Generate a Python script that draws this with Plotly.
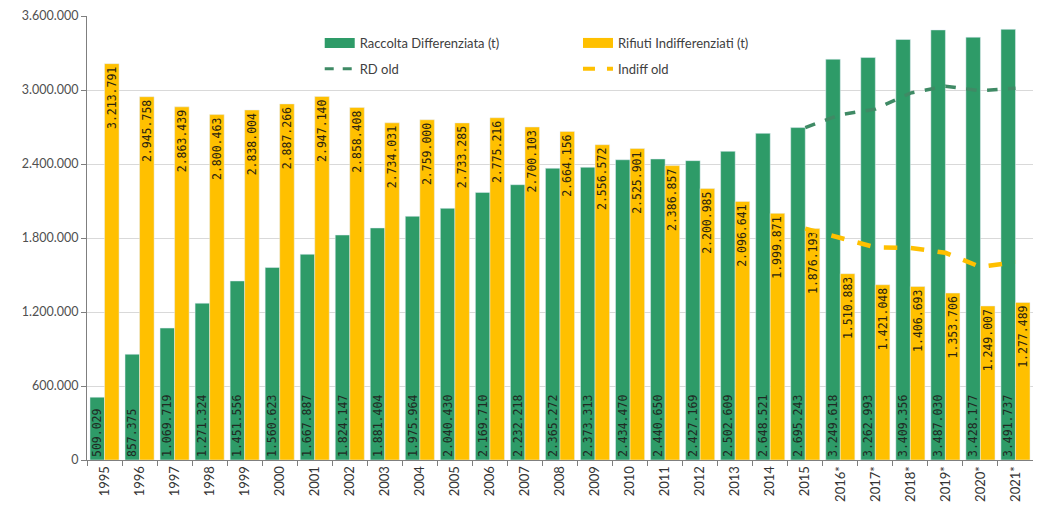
import plotly.graph_objects as go

years = ["1995", "1996", "1997", "1998", "1999", "2000", "2001", "2002", "2003", "2004",
         "2005", "2006", "2007", "2008", "2009", "2010", "2011", "2012", "2013", "2014",
         "2015", "2016*", "2017*", "2018*", "2019*", "2020*", "2021*"]

rd = [509029, 857375, 1069719, 1271324, 1451556, 1560623, 1667887, 1824147, 1881404, 1975964,
      2040430, 2169710, 2232218, 2365272, 2373313, 2434470, 2440650, 2427169, 2502609, 2648521,
      2695243, 3249618, 3262993, 3409356, 3487030, 3428177, 3491737]

indiff = [3213791, 2945758, 2863439, 2800463, 2838004, 2887266, 2947140, 2858408, 2734031, 2759000,
          2733285, 2775216, 2700103, 2664156, 2556572, 2525901, 2386857, 2200985, 2096641, 1999871,
          1876193, 1510883, 1421048, 1406693, 1353706, 1249007, 1277489]

old_years = ["2015", "2016*", "2017*", "2018*", "2019*", "2020*", "2021*"]
rd_old = [2695243, 2800000, 2845000, 2975000, 3030000, 2995000, 3015000]
indiff_old = [1876193, 1800000, 1725000, 1720000, 1680000, 1565000, 1605000]

y_ticks = [0, 600000, 1200000, 1800000, 2400000, 3000000, 3600000]

GREEN = "#2E9B68"
YELLOW = "#FFC000"
GREEN_LINE = "#3F8A65"


def fmt(v):
    return f"{v:,}".replace(",", ".")


fig = go.Figure()

fig.add_trace(go.Bar(
    x=years, y=rd, name="Raccolta Differenziata (t)", marker_color=GREEN,
    text=[fmt(v) for v in rd], textposition="inside", insidetextanchor="start",
    textangle=-90, constraintext="none",
    textfont=dict(family="DejaVu Sans Mono", size=11.5, color="#1f2a24"),
    showlegend=False, legendgroup="rd"))

fig.add_trace(go.Bar(
    x=years, y=indiff, name="Rifiuti Indifferenziati (t)", marker_color=YELLOW,
    text=[fmt(v) for v in indiff], textposition="inside", insidetextanchor="end",
    textangle=-90, constraintext="none",
    textfont=dict(family="DejaVu Sans Mono", size=11.5, color="#2b2410"),
    showlegend=False, legendgroup="ind"))

fig.add_trace(go.Scatter(
    x=old_years, y=rd_old, name="RD old", mode="lines",
    line=dict(color=GREEN_LINE, width=3.5, dash="dash"),
    showlegend=False, legendgroup="rdold"))

fig.add_trace(go.Scatter(
    x=old_years, y=indiff_old, name="Indiff old", mode="lines",
    line=dict(color=YELLOW, width=4.5, dash="dash"),
    showlegend=False, legendgroup="indold"))

# legend entries
fig.add_trace(go.Scatter(x=[None], y=[None], mode="lines", name="Raccolta Differenziata (t)",
                         line=dict(color=GREEN, width=10), legend="legend", legendgroup="rd"))
fig.add_trace(go.Scatter(x=[None], y=[None], mode="lines", name="RD old",
                         line=dict(color=GREEN_LINE, width=3, dash="dash"), legend="legend",
                         legendgroup="rdold"))
fig.add_trace(go.Scatter(x=[None], y=[None], mode="lines", name="Rifiuti Indifferenziati (t)",
                         line=dict(color=YELLOW, width=10), legend="legend2", legendgroup="ind"))
fig.add_trace(go.Scatter(x=[None], y=[None], mode="lines", name="Indiff old",
                         line=dict(color=YELLOW, width=4, dash="dash"), legend="legend2",
                         legendgroup="indold"))

legend_common = dict(orientation="v", bgcolor="rgba(0,0,0,0)", tracegroupgap=6,
                     font=dict(family="Lato", size=13, color="#404040"),
                     xanchor="left", yanchor="top", itemclick=False)

# the page body adds an 8px offset, margins compensate for it
fig.update_layout(
    width=1041, height=506,
    margin=dict(l=79, r=16, t=8, b=54),
    paper_bgcolor="white", plot_bgcolor="white",
    separators=",.",
    barmode="group", bargap=0.17, bargroupgap=0,
    legend=dict(x=0.246, y=0.973, **legend_common),
    legend2=dict(x=0.519, y=0.973, **legend_common),
    font=dict(family="Lato", size=12, color="#404040"),
)

fig.update_xaxes(
    type="category", categoryorder="array", categoryarray=years,
    range=[-0.5, len(years) - 0.5],
    tickangle=-90, tickfont=dict(family="Lato", size=13, color="#333333"),
    showline=True, linecolor="#7f7f7f", linewidth=1,
    ticks="outside", tickson="boundaries", ticklen=5, tickcolor="#7f7f7f",
    showgrid=False, automargin=False,
)

fig.update_yaxes(
    range=[0, 3600000], tickvals=y_ticks, tickformat=",d",
    tickfont=dict(family="Lato", size=12.5, color="#505050"),
    showline=True, linecolor="#7f7f7f", linewidth=1,
    ticks="outside", ticklen=5, tickcolor="#7f7f7f",
    showgrid=True, gridcolor="#d9d9d9", gridwidth=1,
    zeroline=False, automargin=False,
)

fig.write_html("out.html")
